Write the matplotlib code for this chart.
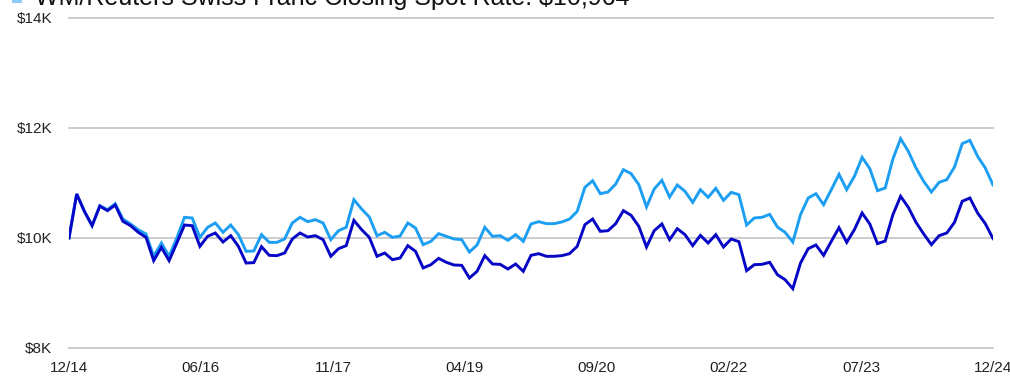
import numpy as np
import matplotlib
matplotlib.use('Agg')
import matplotlib.pyplot as plt
from matplotlib.patches import Rectangle

plt.rcParams['font.family'] = ['Liberation Sans', 'DejaVu Sans']

# Growth of $10,000, month-end values Dec 2014 .. Dec 2024
fund = [
    10000, 10800, 10485, 10224, 10580, 10497, 10600, 10303, 10224, 10103,
    10012, 9588, 9830, 9588, 9909, 10236, 10224, 9848, 10030, 10091,
    9927, 10042, 9848, 9545, 9552, 9842, 9685, 9679, 9727, 9982,
    10091, 10018, 10042, 9970, 9667, 9806, 9861, 10321, 10152, 10012,
    9667, 9727, 9606, 9636, 9861, 9758, 9455, 9515, 9630, 9558,
    9509, 9503, 9273, 9394, 9679, 9527, 9521, 9436, 9527, 9394,
    9685, 9715, 9667, 9667, 9679, 9715, 9848, 10242, 10345, 10121,
    10133, 10261, 10497, 10412, 10212, 9836, 10133, 10255, 9970, 10170,
    10061, 9861, 10048, 9909, 10061, 9836, 9982, 9933, 9406, 9515,
    9521, 9558, 9333, 9242, 9079, 9545, 9806, 9873, 9685, 9939,
    10188, 9921, 10152, 10455, 10255, 9897, 9945, 10424, 10758, 10558,
    10285, 10073, 9879, 10042, 10091, 10285, 10667, 10727, 10455, 10261,
    9990,
]
chf_spot = [
    10000, 10800, 10485, 10224, 10588, 10515, 10624, 10345, 10255, 10150,
    10073, 9667, 9909, 9667, 10000, 10376, 10364, 10012, 10194, 10273,
    10103, 10236, 10061, 9758, 9764, 10061, 9921, 9921, 9982, 10273,
    10376, 10297, 10333, 10273, 9970, 10133, 10194, 10697, 10527, 10382,
    10042, 10103, 10012, 10036, 10273, 10182, 9879, 9939, 10079, 10030,
    9982, 9970, 9745, 9873, 10194, 10030, 10042, 9958, 10061, 9939,
    10255, 10297, 10261, 10261, 10291, 10345, 10485, 10921, 11042, 10806,
    10836, 10982, 11242, 11170, 10970, 10564, 10891, 11048, 10745, 10964,
    10848, 10648, 10879, 10739, 10903, 10685, 10830, 10788, 10236, 10364,
    10376, 10430, 10200, 10103, 9927, 10424, 10727, 10806, 10606, 10879,
    11158, 10879, 11121, 11467, 11261, 10861, 10909, 11436, 11806, 11576,
    11273, 11030, 10836, 11012, 11061, 11291, 11715, 11776, 11485, 11273,
    10964,
]
x_labels = ['12/14', '06/16', '11/17', '04/19', '09/20', '02/22', '07/23', '12/24']
y_ticks = [8000, 10000, 12000, 14000]
legend_label = 'WM/Reuters Swiss Franc Closing Spot Rate: $10,964'

DARK = '#0606c6'
LIGHT = '#1c9ef3'

fig = plt.figure(figsize=(10.10, 3.79), dpi=100)
ax = fig.add_axes([69 / 1010, 31 / 379, 924 / 1010, 330 / 379])

months = np.arange(len(fund))
ax.plot(months, chf_spot, color=LIGHT, lw=2.1, solid_joinstyle='miter', zorder=3)
ax.plot(months, fund, color=DARK, lw=2.1, solid_joinstyle='miter', zorder=4)

ax.set_xlim(0, len(fund) - 1)
ax.set_ylim(8000, 14000)
ax.set_yticks(y_ticks)
ax.set_yticklabels([f'${v // 1000}K' for v in y_ticks])
ax.set_xticks(np.linspace(0, len(fund) - 1, len(x_labels)))
ax.set_xticklabels(x_labels)
ax.tick_params(axis='both', length=0, labelsize=11, colors='#222222')
ax.tick_params(axis='y', pad=12)
ax.tick_params(axis='x', pad=9)

for v in y_ticks:
    ax.axhline(v, color='#c8c8c8', lw=1.3, zorder=1, clip_on=False)
for s in ax.spines.values():
    s.set_visible(False)

# legend row, cut off by the top edge of the image
fig.patches.append(Rectangle((12 / 1010, 1 - 3 / 379), 10 / 1010, 12 / 379,
                             transform=fig.transFigure, color='#8ccbf6', lw=0))
fig.text(35 / 1010, 1 - 4.5 / 379, legend_label, fontsize=18,
         va='baseline', ha='left', color='#111111')

fig.savefig('out.png', dpi=100)
